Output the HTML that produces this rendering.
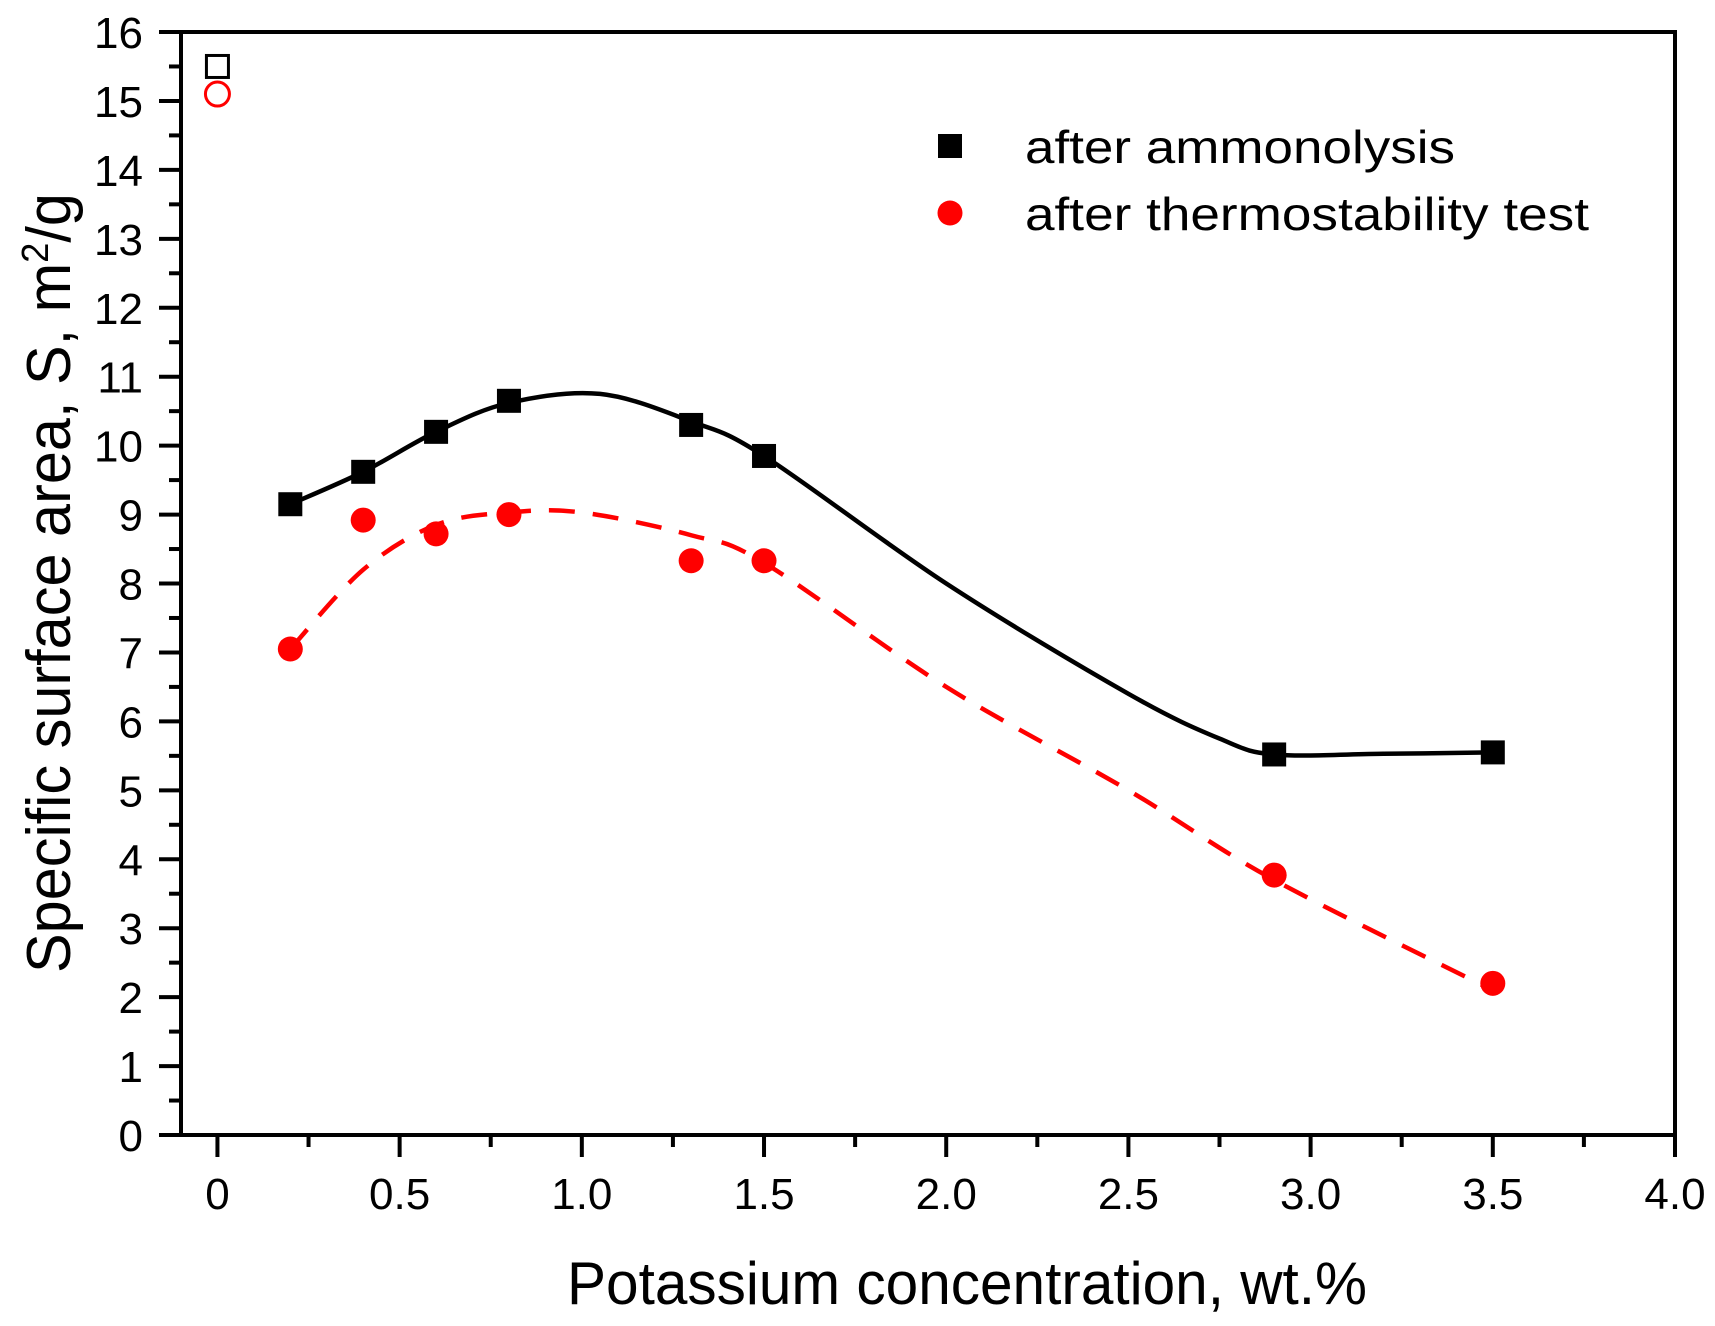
<!DOCTYPE html>
<html><head><meta charset="utf-8"><style>html,body{margin:0;padding:0;background:#fff}svg{display:block}text{font-family:"Liberation Sans",sans-serif}</style></head>
<body>
<svg id="chart" width="1715" height="1326" xmlns="http://www.w3.org/2000/svg"></svg>
<script>
const xCats=[0.2,0.4,0.6,0.8,1.3,1.5,2.9,3.5];
const ammonolysis=[9.15,9.62,10.2,10.65,10.3,9.85,5.52,5.55];
const thermo=[7.05,8.92,8.72,9.0,8.33,8.33,3.77,2.2];
const fitX=[0.2,0.4,0.6,0.8,1.05,1.3,1.5,2.0,2.5,2.75,2.9,3.2,3.5];
const fitAmmon=[9.15,9.62,10.2,10.62,10.75,10.35,9.85,8.0,6.4,5.75,5.52,5.53,5.55];
const fitThermoX=[0.2,0.4,0.6,0.8,1.0,1.3,1.5,2.0,2.5,2.9,3.5];
const fitThermo=[7.05,8.2,8.85,9.03,9.03,8.7,8.3,6.5,5.0,3.7,2.1];
const refX=[0];
const refAmmon=[15.5];
const refThermo=[15.1];
const xTicks=[0,0.5,1.0,1.5,2.0,2.5,3.0,3.5,4.0];
const xTickLabels=["0","0.5","1.0","1.5","2.0","2.5","3.0","3.5","4.0"];
const yTicks=[0,1,2,3,4,5,6,7,8,9,10,11,12,13,14,15,16];

const L=181,R=1675,T=32,B=1135,XMIN=-0.1,XMAX=4.0,YMIN=0,YMAX=16;
const sx=v=>L+(v-XMIN)/(XMAX-XMIN)*(R-L);
const sy=v=>B-(v-YMIN)/(YMAX-YMIN)*(B-T);
const svg=document.getElementById('chart');
const NS='http://www.w3.org/2000/svg';
function mk(t,a){const e=document.createElementNS(NS,t);for(const k in a)e.setAttribute(k,a[k]);svg.appendChild(e);return e;}
function spline(xs,ys){const p=xs.map((x,i)=>[sx(x),sy(ys[i])]);let d='M'+p[0][0]+','+p[0][1];
for(let i=0;i<p.length-1;i++){const p0=p[Math.max(0,i-1)],p1=p[i],p2=p[i+1],p3=p[Math.min(p.length-1,i+2)];
d+=' C'+(p1[0]+(p2[0]-p0[0])/6)+','+(p1[1]+(p2[1]-p0[1])/6)+' '+(p2[0]-(p3[0]-p1[0])/6)+','+(p2[1]-(p3[1]-p1[1])/6)+' '+p2[0]+','+p2[1];}return d;}

xTicks.forEach((v,i)=>{
  let t=mk('line',{x1:sx(v),x2:sx(v),y1:B,y2:B+22,stroke:'#000','stroke-width':4});
  
  let lb=mk('text',{x:sx(v),y:1209,'font-size':44,'text-anchor':'middle'});lb.textContent=xTickLabels[i];
  
  if(i<xTicks.length-1){let m=mk('line',{x1:sx(v+0.25),x2:sx(v+0.25),y1:B,y2:B+12,stroke:'#000','stroke-width':4});
  }
});
yTicks.forEach((v,i)=>{
  let t=mk('line',{x1:L-22,x2:L,y1:sy(v),y2:sy(v),stroke:'#000','stroke-width':4});
  
  let lb=mk('text',{x:143,y:sy(v)+16,'font-size':44,'text-anchor':'end'});lb.textContent=String(v);
  
  if(i<yTicks.length-1){let m=mk('line',{x1:L-12,x2:L,y1:sy(v+0.5),y2:sy(v+0.5),stroke:'#000','stroke-width':4});
  }
});
let fr=mk('rect',{x:L,y:T,width:R-L,height:B-T,fill:'none',stroke:'#000','stroke-width':4});


let c1=mk('path',{d:spline(fitX,fitAmmon),fill:'none',stroke:'#000','stroke-width':4.5});

let c2=mk('path',{d:spline(fitThermoX,fitThermo),fill:'none',stroke:'#f00','stroke-width':4.5,'stroke-dasharray':'26,18'});


xCats.forEach((x,i)=>{
  let s=mk('rect',{x:sx(x)-12,y:sy(ammonolysis[i])-12,width:24,height:24,fill:'#000'});
  
  let c=mk('circle',{cx:sx(x),cy:sy(thermo[i]),r:12.5,fill:'#f00'});
  
});
refX.forEach((x,i)=>{
  let s=mk('rect',{x:sx(x)-11,y:sy(refAmmon[i])-11,width:22,height:22,fill:'none',stroke:'#000','stroke-width':3});
  
  let c=mk('circle',{cx:sx(x),cy:sy(refThermo[i]),r:12,fill:'none',stroke:'#f00','stroke-width':3});
  
});

let ls=mk('rect',{x:938,y:134,width:24,height:24,fill:'#000'});

let lt=mk('text',{x:1025,y:163,'font-size':46,textLength:430,lengthAdjust:'spacingAndGlyphs'});lt.textContent='after ammonolysis';

let lc=mk('circle',{cx:950,cy:213,r:12.5,fill:'#f00'});

let lt2=mk('text',{x:1025,y:230,'font-size':46,textLength:564,lengthAdjust:'spacingAndGlyphs'});lt2.textContent='after thermostability test';


let xt=mk('text',{x:567,y:1304,'font-size':60,textLength:800,lengthAdjust:'spacingAndGlyphs'});xt.textContent='Potassium concentration, wt.%';

let yt=mk('text',{x:0,y:0,'font-size':62,'text-anchor':'middle',textLength:780,lengthAdjust:'spacingAndGlyphs',transform:'translate(70,583) rotate(-90)'});
yt.innerHTML='Specific surface area, S, m<tspan dy="-22" font-size="38">2</tspan><tspan dy="22">/g</tspan>';

</script>
</body></html>
